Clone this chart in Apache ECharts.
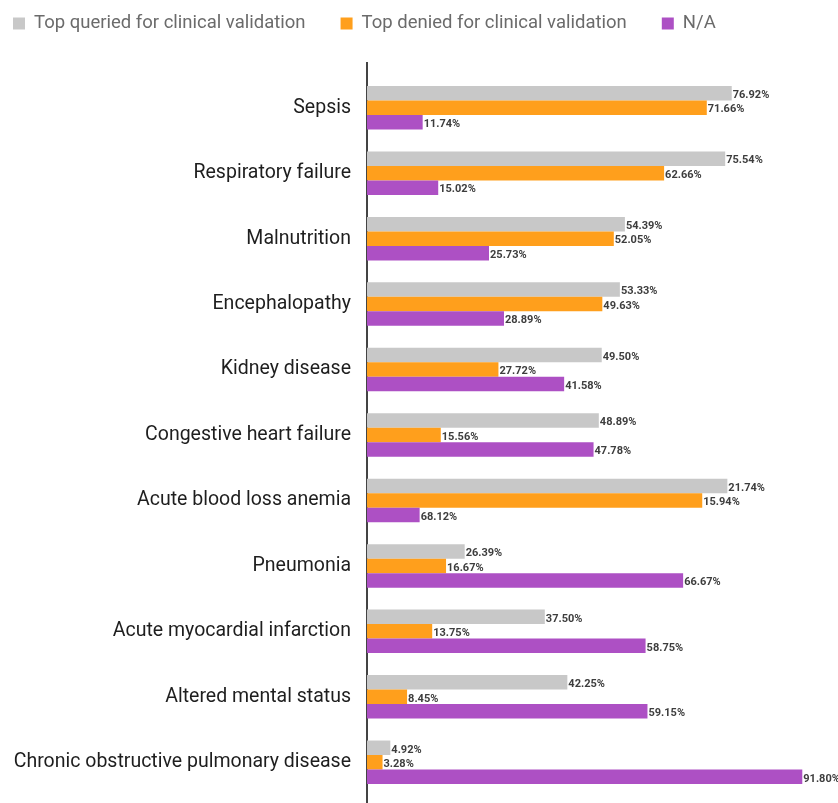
<!DOCTYPE html>
<html>
<head>
<meta charset="utf-8">
<script src="https://cdn.jsdelivr.net/npm/echarts@6/dist/echarts.min.js"></script>
<style>
  html, body { margin: 0; padding: 0; background: #fff; }
  #chart { width: 838px; height: 803px; }
</style>
</head>
<body>
<div id="chart"></div>
<script>
// categories, top to bottom
var categories = [
  "Sepsis", "Respiratory failure", "Malnutrition", "Encephalopathy",
  "Kidney disease", "Congestive heart failure", "Acute blood loss anemia",
  "Pneumonia", "Acute myocardial infarction", "Altered mental status",
  "Chronic obstructive pulmonary disease"
];
var seriesNames = ["Top queried for clinical validation", "Top denied for clinical validation", "N/A"];

// bar lengths as drawn in the picture
var queried = [76.92, 75.54, 54.39, 53.33, 49.50, 48.89, 76.0, 20.6, 37.50, 42.25, 4.92];
var denied  = [71.66, 62.66, 52.05, 49.63, 27.72, 15.56, 70.7, 16.67, 13.75, 8.45, 3.28];
var na      = [11.74, 15.02, 25.73, 28.89, 41.58, 47.78, 11.1, 66.67, 58.75, 59.15, 91.80];

// printed value labels
var queriedLabels = ["76.92%", "75.54%", "54.39%", "53.33%", "49.50%", "48.89%", "21.74%", "26.39%", "37.50%", "42.25%", "4.92%"];
var deniedLabels  = ["71.66%", "62.66%", "52.05%", "49.63%", "27.72%", "15.56%", "15.94%", "16.67%", "13.75%", "8.45%", "3.28%"];
var naLabels      = ["11.74%", "15.02%", "25.73%", "28.89%", "41.58%", "47.78%", "68.12%", "66.67%", "58.75%", "59.15%", "91.80%"];

var colors = ["#c8c8c8", "#ff9f1c", "#ad50c4"];

function makeSeries(i, values, labels) {
  return {
    name: seriesNames[i],
    type: "bar",
    data: values,
    barWidth: 14.5,
    barGap: "0%",
    itemStyle: { color: colors[i] },
    label: {
      show: true,
      position: "right",
      distance: 1,
      color: "#3d3d3d",
      fontFamily: "Roboto",
      fontWeight: "bold",
      fontSize: 11,
      offset: [0, 2],
      formatter: function (p) { return labels[p.dataIndex]; }
    }
  };
}

var myChart = echarts.init(document.getElementById("chart"));
myChart.setOption({
  animation: false,
  legend: {
    top: 9,
    left: 8,
    itemWidth: 12,
    itemHeight: 12,
    itemGap: 35,
    icon: "rect",
    textStyle: { color: "#6b6b6b", fontFamily: "Roboto", fontSize: 18.5, padding: [0, 0, 0, 4] },
    data: seriesNames
  },
  grid: { left: 367, right: 12, top: 75, bottom: 8 },
  xAxis: {
    type: "value",
    min: 0,
    max: 96.8,
    show: false
  },
  yAxis: {
    type: "category",
    inverse: true,
    data: categories,
    axisLine: { show: false },
    axisTick: { show: false },
    axisLabel: { color: "#1e1e1e", fontFamily: "Roboto", fontSize: 19.5, margin: 16 }
  },
  graphic: [{
    type: "line",
    shape: { x1: 367, y1: 62, x2: 367, y2: 803 },
    style: { stroke: "#444", lineWidth: 2 }
  }],
  series: [
    makeSeries(0, queried, queriedLabels),
    makeSeries(1, denied, deniedLabels),
    makeSeries(2, na, naLabels)
  ]
});
</script>
</body>
</html>
